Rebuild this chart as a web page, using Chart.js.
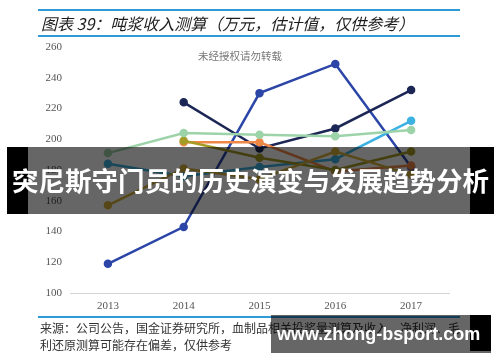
<!DOCTYPE html>
<html>
<head>
<meta charset="utf-8">
<script src="https://cdn.jsdelivr.net/npm/chart.js@4"></script>
<style>
body { margin: 0; width: 500px; height: 362px; background: #fff; overflow: hidden; position: relative; font-family: "Noto Sans CJK SC", sans-serif; }
#wrap { position: absolute; left: 0; top: 0; width: 500px; height: 362px; }
.rule { position: absolute; left: 38px; width: 422px; height: 2px; background: #2f9ad8; }
#title { position: absolute; left: 41px; top: 12px; font-size: 16px; font-style: italic; color: #1d1d1d; white-space: nowrap; line-height: 22px; }
#mark { position: absolute; left: 198px; top: 48px; font-size: 10.5px; color: #777; }
#src { position: absolute; left: 40px; top: 319px; font-size: 12px; line-height: 17px; color: #333; white-space: nowrap; }
#band { position: absolute; left: 7px; top: 147px; width: 487px; height: 67px; background: rgba(0,0,0,0.6); }
#band .l { position: absolute; left: 0; top: 0; width: 21px; height: 67px; background: #000; }
#band .r { position: absolute; right: 0; top: 0; width: 24px; height: 67px; background: #000; }
#band .t { position: absolute; left: 0; width: 487px; top: 14px; text-align: center; color: #fff; font-weight: bold; font-size: 26.5px; line-height: 38px; white-space: nowrap; }
#site { position: absolute; left: 271px; top: 315px; width: 220px; height: 38px; background: rgba(0,0,0,0.6); }
#site .r { position: absolute; right: 0; top: 0; width: 21px; height: 36px; background: #000; }
#site .t { position: absolute; left: 6px; top: 4px; color: #fff; font-family: "Liberation Sans", sans-serif; font-weight: bold; font-size: 18px; line-height: 30px; white-space: nowrap; }
</style>
</head>
<body>
<div id="wrap"><canvas id="myChart" width="500" height="362"></canvas></div>
<div class="rule" style="top:9px"></div>
<div id="title">图表 39：吨浆收入测算（万元，估计值，仅供参考）</div>
<div class="rule" style="top:35px"></div>
<div id="mark">未经授权请勿转载</div>
<div class="rule" style="top:316px"></div>
<div id="src">来源：公司公告，国金证券研究所，血制品相关投浆量测算及收入、净利润、毛<br>利还原测算可能存在偏差，仅供参考</div>
<div id="band"><div class="l"></div><div class="r"></div><div class="t">突尼斯守门员的历史演变与发展趋势分析</div></div>
<div id="site"><div class="r"></div><div class="t">www.zhong-bsport.com</div></div>

<script>
'use strict';

// categories and tick range
var years = ["2013", "2014", "2015", "2016", "2017"];
var yMin = 100, yMax = 260, yStep = 20;

// series values
var blue   = [119, 143, 230, 249, 182];
var navy   = [null, 224, 194, 207, 232];
var green  = [191, 204, 203, 202, 206];
var orange = [null, 198, 198, 179, 183];
var olive  = [null, 199, 188, 180, 192];
var gold   = [157, 181, 174, 192, 177];
var cyan   = [184, 176, 182, 187, 212];

function line(data, color) {
    return {
        data: data,
        borderColor: color,
        backgroundColor: color,
        borderWidth: 2.5,
        pointRadius: 3,
        pointHoverRadius: 3,
        tension: 0,
        spanGaps: false
    };
}

var ctx = document.getElementById('myChart').getContext('2d');

var chart = new Chart(ctx, {
    type: 'line',
    data: {
        labels: years,
        datasets: [
            line(green, '#9dd3a8'),
            line(gold, '#d8b13c'),
            line(olive, '#a59c25'),
            line(orange, '#ef8746'),
            line(cyan, '#3db2e2'),
            line(navy, '#1d2756'),
            line(blue, '#2c46a8')
        ]
    },
    options: {
        responsive: false,
        animation: false,
        layout: { padding: { left: 42, right: 51, top: 47, bottom: 49 } },
        plugins: { legend: { display: false }, tooltip: { enabled: false } },
        scales: {
            x: {
                offset: true,
                grid: { display: false, drawTicks: false },
                border: { display: true, color: '#d4d4d4', width: 1 },
                ticks: { padding: 7, color: '#555', font: { family: 'Liberation Serif', size: 11 } },
                afterFit: function (scale) { scale.height = 20; }
            },
            y: {
                min: yMin,
                max: yMax,
                grid: { display: false, drawTicks: false },
                border: { display: false },
                ticks: { stepSize: yStep, padding: 8, color: '#555', font: { family: 'Liberation Serif', size: 11 } },
                afterFit: function (scale) { scale.width = 28; }
            }
        }
    }
});
</script>
</body>
</html>
